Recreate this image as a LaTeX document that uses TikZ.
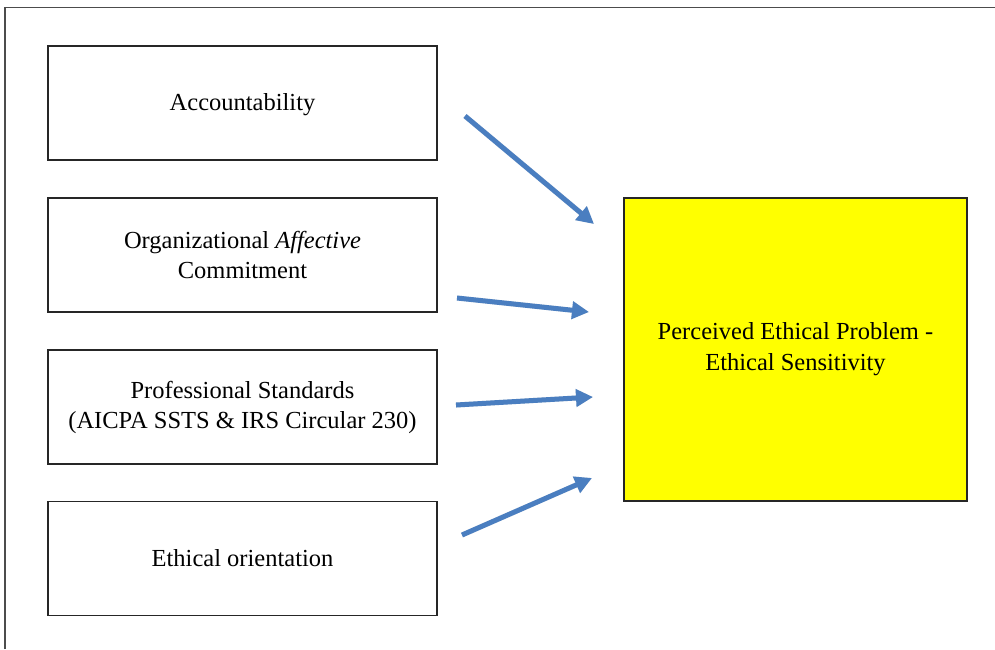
\documentclass[tikz,border=0pt]{standalone}
\usepackage{fontspec}
\setmainfont{Liberation Serif}
\usetikzlibrary{arrows.meta}
\definecolor{arrowblue}{RGB}{74,126,192}
\definecolor{boxyellow}{RGB}{255,255,0}
\begin{document}
\begin{tikzpicture}[x=1pt,y=-1pt,
  factor/.style={draw=black!85,line width=1.3pt,fill=white,minimum width=389pt,minimum height=114pt,
    align=center,font=\fontsize{24.5}{30}\selectfont,inner sep=0pt},
  outcome/.style={draw=black!85,line width=1.5pt,fill=boxyellow,minimum width=343pt,minimum height=303pt,
    align=center,font=\fontsize{24.5}{31}\selectfont,inner sep=0pt},
  link/.style={draw=arrowblue,line width=5pt,-{Triangle[length=17pt,width=17pt]}},
  shade/.style={draw=black!25,line width=5pt,-{Triangle[length=17pt,width=17pt]}}]
% page frame and outer edges
\useasboundingbox (0,0) rectangle (995,649);
\fill[white] (0,0) rectangle (995,649);
\draw[black!70,line width=1.2pt] (5,649) -- (5,7.5) -- (995,7.5);

% factor boxes
\node[factor] (acc) at (242.5,103) {\raisebox{-7pt}[0pt][0pt]{Accountability}};
\node[factor] (org) at (242.5,255) {Organizational \textit{Affective}\\Commitment};
\node[factor] (std) at (242.5,407) {Professional Standards\\(AICPA SSTS \& IRS Circular 230)};
\node[factor] (eth) at (242.5,558.5) {Ethical orientation};

% outcome box
\node[outcome] (out) at (795.5,349.5) {Perceived Ethical Problem -\\Ethical Sensitivity};

% arrow ends
\coordinate (a1) at (465,116);  \coordinate (b1) at (594,224);
\coordinate (a2) at (457,298);  \coordinate (b2) at (589,312);
\coordinate (a3) at (456,405);  \coordinate (b3) at (593,397);
\coordinate (a4) at (462,535);  \coordinate (b4) at (592,478);

% soft shadows under arrows
\begin{scope}[opacity=0.35,shift={(1.5,2.5)}]
\draw[shade] (a1) -- (b1);
\draw[shade] (a2) -- (b2);
\draw[shade] (a3) -- (b3);
\draw[shade] (a4) -- (b4);
\end{scope}

% arrows
\draw[link] (a1) -- (b1);
\draw[link] (a2) -- (b2);
\draw[link] (a3) -- (b3);
\draw[link] (a4) -- (b4);
\end{tikzpicture}
\end{document}
